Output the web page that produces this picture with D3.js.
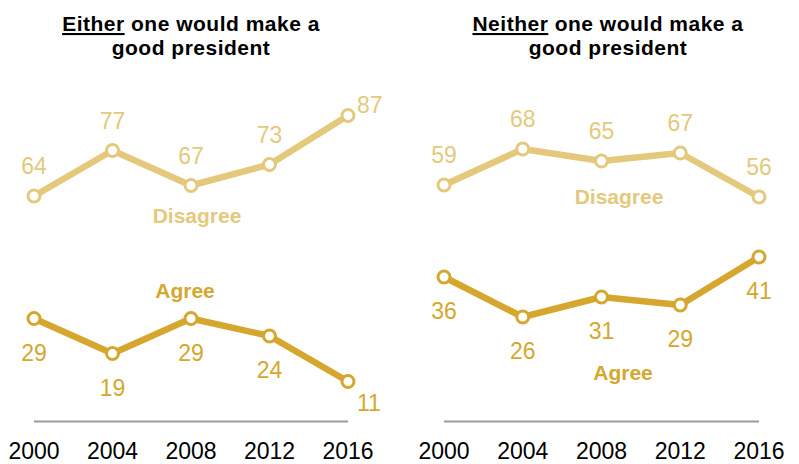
<!DOCTYPE html>
<html><head><meta charset="utf-8">
<script src="https://cdn.jsdelivr.net/npm/d3@7"></script>
<style>
html,body{margin:0;padding:0;background:#fff;}
svg{display:block;}
text{font-family:"Liberation Sans",Arial,sans-serif;}
</style></head>
<body>
<svg id="chart" width="799" height="464"></svg>
<script>
const years = [2000, 2004, 2008, 2012, 2016];
const eitherAgree = [29, 19, 29, 24, 11];
const eitherDisagree = [64, 77, 67, 73, 87];
const neitherAgree = [36, 26, 31, 29, 41];
const neitherDisagree = [59, 68, 65, 67, 56];
const titleKeywords = ["Either", "Neither"];
const titleRest = [" one would make a", "good president"];

const colAgree = "#d5a72e";
const colDis = "#e4c97d";

const svg = d3.select("#chart");

const panels = [
  {key: titleKeywords[0], agree: eitherAgree, dis: eitherDisagree, x0: 34, x1: 348, yTop: 70, yBot: 420, titleX: 191,
   disLbl: [197, 223], agrLbl: [185, 298], lastAgreeSide: "right", lastDisSide: "right"},
  {key: titleKeywords[1], agree: neitherAgree, dis: neitherDisagree, x0: 444, x1: 759, yTop: 21, yBot: 421, titleX: 608,
   disLbl: [619, 204], agrLbl: [623, 380], lastAgreeSide: "below", lastDisSide: "above"}
];

panels.forEach(p => {
  const g = svg.append("g");
  const x = d3.scaleLinear().domain([years[0], years[years.length-1]]).range([p.x0, p.x1]);
  const y = d3.scaleLinear().domain([0, 100]).range([p.yBot, p.yTop]);

  // title
  const t = g.append("text").attr("x", p.titleX).attr("y", 31).attr("text-anchor", "middle")
    .attr("font-size", 21).attr("letter-spacing", 0.5).attr("font-weight", "bold").attr("fill", "#000");
  t.append("tspan").text(p.key).style("text-decoration", "underline");
  t.append("tspan").text(titleRest[0]);
  g.append("text").attr("x", p.titleX).attr("y", 55).attr("text-anchor", "middle")
    .attr("font-size", 21).attr("letter-spacing", 0.5).attr("font-weight", "bold").attr("fill", "#000").text(titleRest[1]);

  // baseline axis
  g.append("line").attr("x1", x(years[0])).attr("x2", x(years[years.length-1]))
    .attr("y1", 421.5).attr("y2", 421.5).attr("stroke", "#9a9a9a").attr("stroke-width", 2);

  // year labels
  g.selectAll(".yr").data(years).join("text")
    .attr("x", d => x(d)).attr("y", 459).attr("text-anchor", "middle")
    .attr("font-size", 23).attr("fill", "#000").text(d => d);

  const line = d3.line().x((d, i) => x(years[i])).y(d => y(d));

  [[p.dis, colDis, "above", p.lastDisSide], [p.agree, colAgree, "below", p.lastAgreeSide]].forEach(([vals, col, side, lastSide]) => {
    g.append("path").datum(vals).attr("d", line).attr("fill", "none")
      .attr("stroke", col).attr("stroke-width", 6.5).attr("stroke-linejoin", "round");
    g.selectAll(null).data(vals).join("circle")
      .attr("cx", (d, i) => x(years[i])).attr("cy", d => y(d)).attr("r", 6)
      .attr("fill", "#fff").attr("stroke", col).attr("stroke-width", 3);
    g.selectAll(null).data(vals).join("text")
      .attr("font-size", 23).attr("fill", col)
      .each(function(d, i) {
        const s = (i === vals.length - 1) ? lastSide : side;
        const el = d3.select(this);
        const cx = x(years[i]), cy = y(d);
        if (s === "right") {
          el.attr("text-anchor", "start").attr("x", cx + 9)
            .attr("y", side === "above" ? cy - 3 : cy + 29);
        } else {
          el.attr("text-anchor", "middle").attr("x", cx)
            .attr("y", s === "above" ? cy - 22 : cy + 42);
        }
      })
      .text(d => d);
  });

  g.append("text").attr("x", p.disLbl[0]).attr("y", p.disLbl[1]).attr("text-anchor", "middle")
    .attr("font-size", 21).attr("font-weight", "bold").attr("fill", colDis).text("Disagree");
  g.append("text").attr("x", p.agrLbl[0]).attr("y", p.agrLbl[1]).attr("text-anchor", "middle")
    .attr("font-size", 21).attr("font-weight", "bold").attr("fill", colAgree).text("Agree");
});
</script>
</body></html>
